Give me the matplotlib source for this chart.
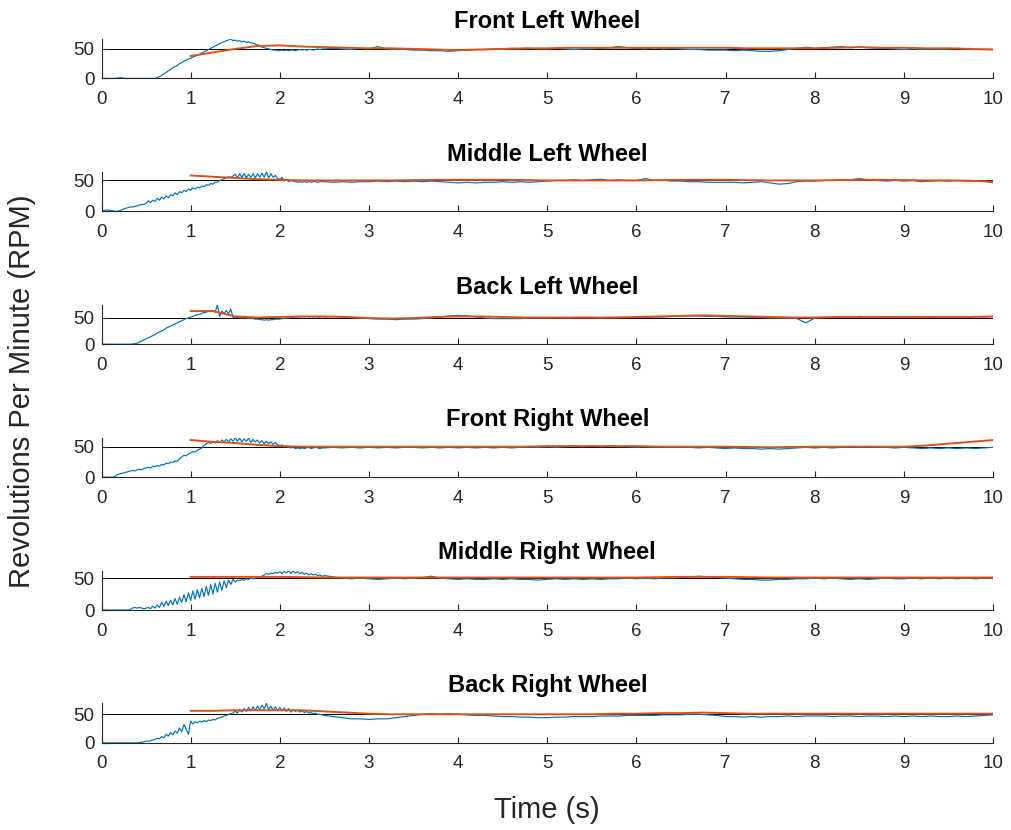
import numpy as np
import matplotlib
matplotlib.use("Agg")
import matplotlib.pyplot as plt

plt.rcParams['font.family'] = ['Liberation Sans', 'DejaVu Sans']

titles = ["Front Left Wheel", "Middle Left Wheel", "Back Left Wheel",
          "Front Right Wheel", "Middle Right Wheel", "Back Right Wheel"]

# time grids: fine for 0-2.5 s, coarse for 2.5-10 s
t_fine = np.arange(100) * 0.025
t_coarse = 2.5 + np.arange(76) * 0.1
t_time = np.concatenate([t_fine, t_coarse])
t_fit = 1.0 + np.arange(37) * 0.25

setpoint = 50
xticks = list(range(0, 11))
yticks = [0, 50]

# measured RPM (blue)
fl_rpm = [
    0, 0, 0, 0, 0, 0, 0, 0.5, 1, 1, 0.5, 0, 0, 0, 0, 0, 0, 0, 0, 0,
    0, 0, 0, 0, 0, 1, 3, 5, 8, 10, 13, 15, 18, 20, 22, 25, 27, 29, 31, 33,
    34, 36, 38, 39, 41, 43, 45, 47, 49, 51, 53, 55, 57, 59, 61, 62, 64, 65, 67, 64,
    65, 63, 64, 62, 63, 61, 62, 60, 60, 58, 57, 55, 53, 52, 51, 50, 49, 48, 48, 47,
    47, 48, 47, 48, 47, 48, 48, 47, 48, 49, 48, 49, 48, 49, 49, 48, 49, 50, 49, 50,
    50, 51, 50, 49, 51, 50, 54, 50, 49, 49,
    48, 48, 47, 47, 46, 47, 48, 49, 49, 50,
    50, 51, 50, 51, 50, 50, 51, 50, 49, 50,
    50, 51, 52, 54, 52, 51, 50, 52, 50, 51,
    50, 49, 49, 48, 48, 48, 47, 48, 47, 46,
    46, 47, 49, 51, 53, 51, 52, 53, 54, 52,
    53, 52, 51, 51, 50, 49, 50, 49, 50, 49,
    50, 51, 50, 49, 49, 49]
ml_rpm = [
    0, 1, 2, 2, 1, 1, 0, 0, 1, 2, 4, 5, 6, 7, 7, 8, 9, 10, 11, 11,
    13, 17, 14, 18, 16, 21, 18, 23, 20, 25, 22, 27, 25, 30, 27, 32, 30, 34, 32, 36,
    34, 38, 36, 39, 38, 41, 40, 43, 42, 45, 44, 47, 47, 50, 51, 53, 54, 56, 55, 57,
    60, 54, 61, 55, 61, 54, 60, 55, 61, 54, 61, 55, 62, 55, 64, 54, 61, 55, 58, 53,
    52, 55, 49, 51, 48, 50, 49, 48, 47, 48, 47, 48, 47, 48, 47, 48, 48, 47, 48, 48,
    48, 47, 48, 47, 48, 48, 49, 48, 49, 48,
    49, 48, 49, 48, 47, 46, 47, 46, 47, 47,
    48, 47, 48, 47, 48, 49, 50, 50, 51, 50,
    51, 52, 50, 51, 50, 50, 53, 50, 50, 49,
    49, 48, 48, 47, 47, 47, 47, 46, 47, 48,
    46, 44, 45, 48, 49, 49, 50, 50, 51, 51,
    53, 51, 50, 49, 50, 49, 50, 48, 49, 50,
    49, 50, 49, 49, 49, 46]
bl_rpm = [
    0, 0, 0, 0, 0, 0, 0, 0, 0, 0, 0, 0, 0, 0, 0.5, 1, 2, 4, 6, 8,
    10, 12, 14, 16, 18, 21, 23, 25, 27, 30, 32, 34, 36, 38, 40, 42, 44, 46, 48, 49,
    51, 52, 54, 55, 56, 58, 59, 60, 62, 61, 63, 60, 74, 52, 62, 58, 63, 57, 66, 50,
    51, 50, 50, 49, 50, 49, 49, 48, 48, 47, 47, 46, 46, 45, 46, 45, 46, 46, 47, 47,
    47, 48, 48, 49, 49, 50, 50, 51, 51, 51, 52, 51, 52, 51, 52, 51, 52, 51, 51, 52,
    51, 52, 51, 50, 49, 48, 47, 47, 46, 47,
    47, 48, 49, 51, 53, 54, 53, 51, 49, 48,
    48, 48, 48, 49, 49, 49, 50, 49, 50, 50,
    50, 49, 50, 50, 50, 50, 50, 51, 51, 52,
    53, 53, 53, 52, 52, 51, 51, 51, 50, 50,
    49, 49, 49, 48, 40, 49, 50, 50, 51, 51,
    52, 51, 51, 50, 50, 51, 50, 50, 50, 51,
    51, 51, 51, 52, 51, 52]
fr_rpm = [
    0, 0, 0, 0, 0, 0, 1, 4, 5, 6, 7, 8, 9, 10, 11, 10, 12, 13, 12, 14,
    15, 16, 15, 18, 17, 19, 18, 21, 20, 23, 22, 25, 24, 27, 26, 30, 33, 36, 35, 38,
    40, 42, 41, 44, 46, 48, 52, 55, 57, 55, 59, 56, 60, 57, 61, 58, 62, 58, 63, 59,
    65, 59, 64, 58, 63, 59, 64, 57, 62, 58, 61, 56, 60, 55, 59, 55, 58, 54, 57, 53,
    52, 53, 50, 51, 49, 48, 49, 47, 48, 47, 48, 47, 48, 49, 47, 48, 49, 48, 47, 48,
    48, 49, 48, 49, 48, 49, 48, 49, 48, 49,
    49, 48, 49, 48, 49, 48, 49, 48, 49, 48,
    49, 48, 49, 50, 49, 50, 49, 50, 51, 50,
    51, 50, 51, 50, 50, 49, 50, 49, 50, 49,
    50, 49, 48, 49, 48, 47, 48, 47, 47, 46,
    47, 46, 47, 48, 49, 48, 49, 48, 49, 50,
    49, 50, 49, 49, 48, 49, 48, 47, 48, 47,
    48, 47, 48, 47, 48, 49]
mr_rpm = [
    0, 0, 0, 0, 0, 0, 0, 0, 0, 0, 0, 0, 0, 1, 3, 4, 3, 4, 3, 2,
    3, 4, 2, 6, 3, 8, 4, 12, 6, 14, 7, 15, 8, 18, 9, 20, 12, 24, 13, 27,
    15, 30, 17, 32, 19, 34, 21, 37, 23, 40, 25, 42, 28, 44, 31, 46, 35, 47, 40, 48,
    44, 47, 46, 48, 47, 49, 48, 50, 49, 50, 51, 52, 53, 55, 57, 56, 58, 57, 59, 58,
    60, 57, 61, 58, 62, 57, 61, 58, 60, 57, 59, 56, 58, 55, 57, 55, 56, 54, 55, 53,
    54, 52, 50, 49, 50, 49, 48, 49, 50, 49,
    50, 51, 53, 50, 49, 48, 49, 48, 48, 49,
    48, 49, 48, 48, 47, 48, 49, 48, 49, 48,
    49, 48, 49, 49, 50, 49, 50, 49, 50, 50,
    51, 52, 53, 52, 51, 50, 49, 48, 48, 47,
    47, 48, 48, 49, 49, 50, 49, 50, 49, 48,
    49, 48, 49, 50, 49, 49, 50, 49, 50, 49,
    50, 49, 50, 49, 50, 50]
br_rpm = [
    0, 0, 0, 0, 0, 0, 0, 0, 0, 0, 0, 0, 0, 0, 0, 0, 0, 1, 1, 2,
    3, 3, 4, 5, 6, 8, 7, 11, 9, 15, 12, 18, 14, 21, 17, 26, 20, 32, 24, 15,
    38, 33, 37, 35, 38, 36, 39, 37, 40, 39, 41, 40, 43, 44, 45, 47, 48, 50, 51, 52,
    56, 52, 58, 54, 60, 55, 62, 56, 63, 57, 64, 58, 66, 59, 69, 58, 64, 57, 63, 56,
    62, 56, 61, 55, 60, 54, 58, 55, 57, 54, 56, 53, 55, 52, 53, 51, 52, 50, 50, 49,
    48, 46, 44, 42, 42, 41, 42, 42, 44, 46,
    48, 50, 51, 50, 51, 50, 49, 48, 48, 47,
    46, 46, 45, 45, 44, 44, 45, 45, 46, 46,
    46, 47, 47, 47, 48, 48, 48, 48, 49, 49,
    49, 50, 50, 49, 48, 46, 46, 45, 46, 45,
    46, 46, 47, 46, 47, 47, 47, 46, 47, 47,
    46, 47, 47, 46, 47, 46, 47, 46, 47, 46,
    46, 47, 46, 47, 48, 49]

# fitted / model response (orange), from t = 1 s
fl_fit = [38, 44, 50, 55, 56, 54, 53, 52, 51, 51, 50, 49, 48, 49, 50, 51, 51, 52, 52,
          52, 52, 52, 52, 52, 52, 51, 51, 51, 51, 52, 53, 52, 52, 51, 51, 50, 49]
ml_fit = [58, 56, 54, 52, 51, 50, 50, 50, 50, 50, 50.5, 51, 51, 51, 51, 50.5, 50, 50, 50,
          50, 50, 50.5, 51, 51, 51, 50.5, 50, 50, 50, 50.5, 51, 51, 50.5, 50, 50, 49.5, 48]
bl_fit = [62, 62, 52, 50, 51, 52, 52, 51, 49, 48, 49, 51, 52, 52, 51, 50, 50, 50, 50,
          50, 51, 52, 53, 54, 53, 52, 51, 50, 50, 51, 51, 51, 51, 51, 51, 51, 52]
fr_fit = [61, 58, 56, 53, 51, 50, 50, 50, 50, 50, 50, 50, 50, 50, 50, 50, 51, 51, 51,
          51, 51, 50, 50, 50, 50, 49.5, 49, 49.5, 50, 50, 50, 50, 50, 52, 55, 58, 61]
mr_fit = [52, 52, 52, 52, 52, 51.5, 51, 51, 51, 51, 51, 51, 51, 51, 51, 51, 51, 51, 51,
          51, 51, 51.5, 52, 52, 52, 51.5, 51, 51, 51, 51, 51, 51, 51, 51, 51, 51, 51]
br_fit = [56, 56, 57, 57, 57, 57, 55, 53, 51, 50, 50, 50, 50, 50, 50, 50, 50, 50, 50,
          51, 51, 52, 52, 53, 52, 51, 51, 51, 51, 51, 51, 51, 51, 51, 51, 51, 51]

rpm_series = [fl_rpm, ml_rpm, bl_rpm, fr_rpm, mr_rpm, br_rpm]
fit_series = [fl_fit, ml_fit, bl_fit, fr_fit, mr_fit, br_fit]

BLUE = '#0072BD'
ORANGE = '#D95319'
AXC = '#262626'

W, H = 1011, 830
fig = plt.figure(figsize=(W / 100, H / 100), dpi=100)
fig.patch.set_facecolor('white')

left = 101.5 / W
width = (993 - 101.5) / W
height = 39.5 / H
bases = [78.4, 211.3, 344.2, 477.1, 610.0, 742.9]

for k in range(6):
    ax = fig.add_axes([left, 1 - bases[k] / H, width, height])
    ax.axhline(setpoint, color='black', lw=0.7, zorder=1)
    ax.plot(t_time, rpm_series[k], color=BLUE, lw=0.85, zorder=2)
    ax.plot(t_fit, fit_series[k], color=ORANGE, lw=1.4, zorder=3)
    ax.set_xlim(0, 10)
    ax.set_ylim(0, max(max(rpm_series[k]), max(fit_series[k])))
    ax.set_xticks(xticks)
    ax.set_yticks(yticks)
    for side in ['top', 'right']:
        ax.spines[side].set_visible(False)
    for side in ['left', 'bottom']:
        ax.spines[side].set_color(AXC)
        ax.spines[side].set_linewidth(0.8)
    ax.tick_params(direction='in', length=4, width=0.8, color=AXC,
                   labelcolor=AXC, labelsize=13.5)
    ax.tick_params(axis='x', pad=9)
    ax.tick_params(axis='y', pad=5)
    ax.set_title(titles[k], fontsize=17, fontweight='bold', color='black', pad=8)

fig.text(0.022, 1 - 391 / H, 'Revolutions Per Minute (RPM)', rotation=90,
         ha='center', va='center', fontsize=21, color=AXC)
fig.text(547 / W, 1 - 810 / H, 'Time (s)', ha='center', va='center',
         fontsize=21, color=AXC)

fig.savefig('out.png', dpi=100)
